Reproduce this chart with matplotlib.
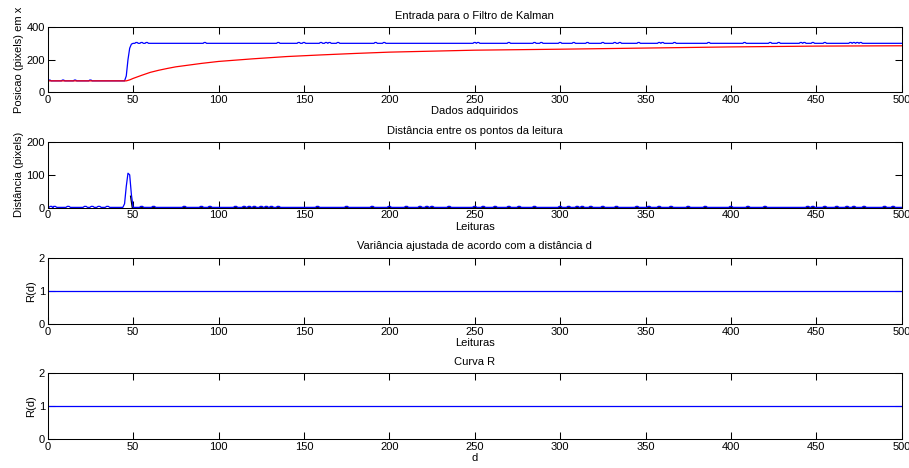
import matplotlib
matplotlib.use("Agg")
import matplotlib.pyplot as plt
import numpy as np

plt.rcParams['font.family'] = ['Liberation Sans', 'DejaVu Sans']
plt.rcParams['font.size'] = 8

# ---- Data ----
# Plot 1: measured position (blue) and filtered position (red)
meas_x = [0, 45, 46, 47, 48, 49, 50, 500]
meas_y = [70, 70, 100, 200, 270, 295, 300, 300]
meas_bumps_low = [1, 9, 16, 25]
meas_bumps_high = [52, 55, 58, 92, 135, 147, 150, 160, 163, 165, 170, 192, 197,
                   250, 252, 270, 285, 289, 300, 308, 316, 325, 332, 335, 346,
                   358, 360, 367, 387, 408, 423, 428, 441, 443, 448, 455, 470,
                   472, 474, 476]
bump_height = 5

filt_x = [0, 46, 48, 50, 55, 60, 65, 70, 75, 80, 90, 100, 120, 140, 160, 180,
          200, 250, 300, 350, 400, 450, 500]
filt_y = [70, 70, 76, 85, 104, 122, 135, 146, 156, 163, 177, 189, 205, 219, 229,
          238, 246, 258, 264, 271, 278, 283, 285]

# Plot 2: distance between reading points
dist_x = [0, 44, 45, 46, 47, 48, 49, 50, 500]
dist_y = [1, 1, 12, 65, 105, 100, 40, 1, 1]
dist_bumps = [2, 4, 12, 22, 26, 30, 35, 55, 62, 80, 90, 95, 110, 115, 118,
              121, 125, 128, 131, 135, 158, 175, 190, 200, 210, 218, 222, 225,
              235, 250, 255, 262, 270, 276, 285, 300, 305, 310, 313, 318, 325,
              333, 345, 352, 358, 365, 375, 385, 400, 410, 420, 445, 448, 455,
              462, 468, 472, 478, 490, 495]
dist_bump_height = 3
dist_black_x = [48.5, 49.5, 500]
dist_black_y = [35, 0, 0]

# Plot 3 and 4: R(d)
r_x = [0, 500]
r_y = [1, 1]

titles = ["Entrada para o Filtro de Kalman",
          "Distância entre os pontos da leitura",
          "Variância ajustada de acordo com a distância d",
          "Curva R"]
xlabels = ["Dados adquiridos", "Leituras", "Leituras", "d"]
ylabels = ["Posicao (pixels) em x", "Distância (pixels)", "R(d)", "R(d)"]
yticks = [[0, 200, 400], [0, 100, 200], [0, 1, 2], [0, 1, 2]]
xticks = [0, 50, 100, 150, 200, 250, 300, 350, 400, 450, 500]


def with_bumps(xs, ys, bumps, h, w):
    px = list(xs)
    py = list(ys)
    for b in bumps:
        base = float(np.interp(b, xs, ys))
        for dx, dy in [(-w, 0), (-0.4 * w, h), (0.4 * w, h), (w, 0)]:
            px.append(b + dx)
            py.append(base + dy)
    order = np.argsort(px, kind="stable")
    return np.array(px)[order], np.array(py)[order]


fig = plt.figure(figsize=(9.09, 4.68), dpi=100)
W, H = 909, 468
left = 47.7 / W
width = 854 / W
rows = [(27, 92.3), (142, 207.7), (257.7, 324), (373, 439)]
axes = []
for top, bot in rows:
    ax = fig.add_axes([left, 1 - bot / H, width, (bot - top) / H])
    axes.append(ax)

blue = (0, 0, 1)
red = (1, 0, 0)
lw = 0.9

# Plot 1
ax = axes[0]
bx, by = with_bumps(meas_x, meas_y, meas_bumps_low + meas_bumps_high,
                    bump_height, 1.0)
ax.plot(bx, by, color=blue, lw=lw)
ax.plot(filt_x, filt_y, color=red, lw=lw)
ax.set_ylim(0, 400)

# Plot 2
ax = axes[1]
ax.plot(dist_black_x, dist_black_y, color='black', lw=lw)
dx_, dy_ = with_bumps(dist_x, dist_y, dist_bumps, dist_bump_height, 1.3)
ax.plot(dx_, dy_, color=blue, lw=lw)
ax.set_ylim(0, 200)

# Plots 3, 4
for ax in axes[2:]:
    ax.plot(r_x, r_y, color=blue, lw=lw)
    ax.set_ylim(0, 2)

for i, ax in enumerate(axes):
    ax.set_xlim(0, 500)
    ax.set_xticks(xticks)
    ax.set_yticks(yticks[i])
    ax.tick_params(direction='in', length=5, width=0.75, top=True, right=True,
                   labelsize=8, pad=2, color='black')
    for s in ax.spines.values():
        s.set_linewidth(0.75)
        s.set_color('black')
    ax.set_title(titles[i], fontsize=8, pad=6)
    ax.set_xlabel(xlabels[i], fontsize=8, labelpad=1)
    ax.set_ylabel(ylabels[i], fontsize=8, labelpad=2)

fig.savefig("out.png", dpi=100)
